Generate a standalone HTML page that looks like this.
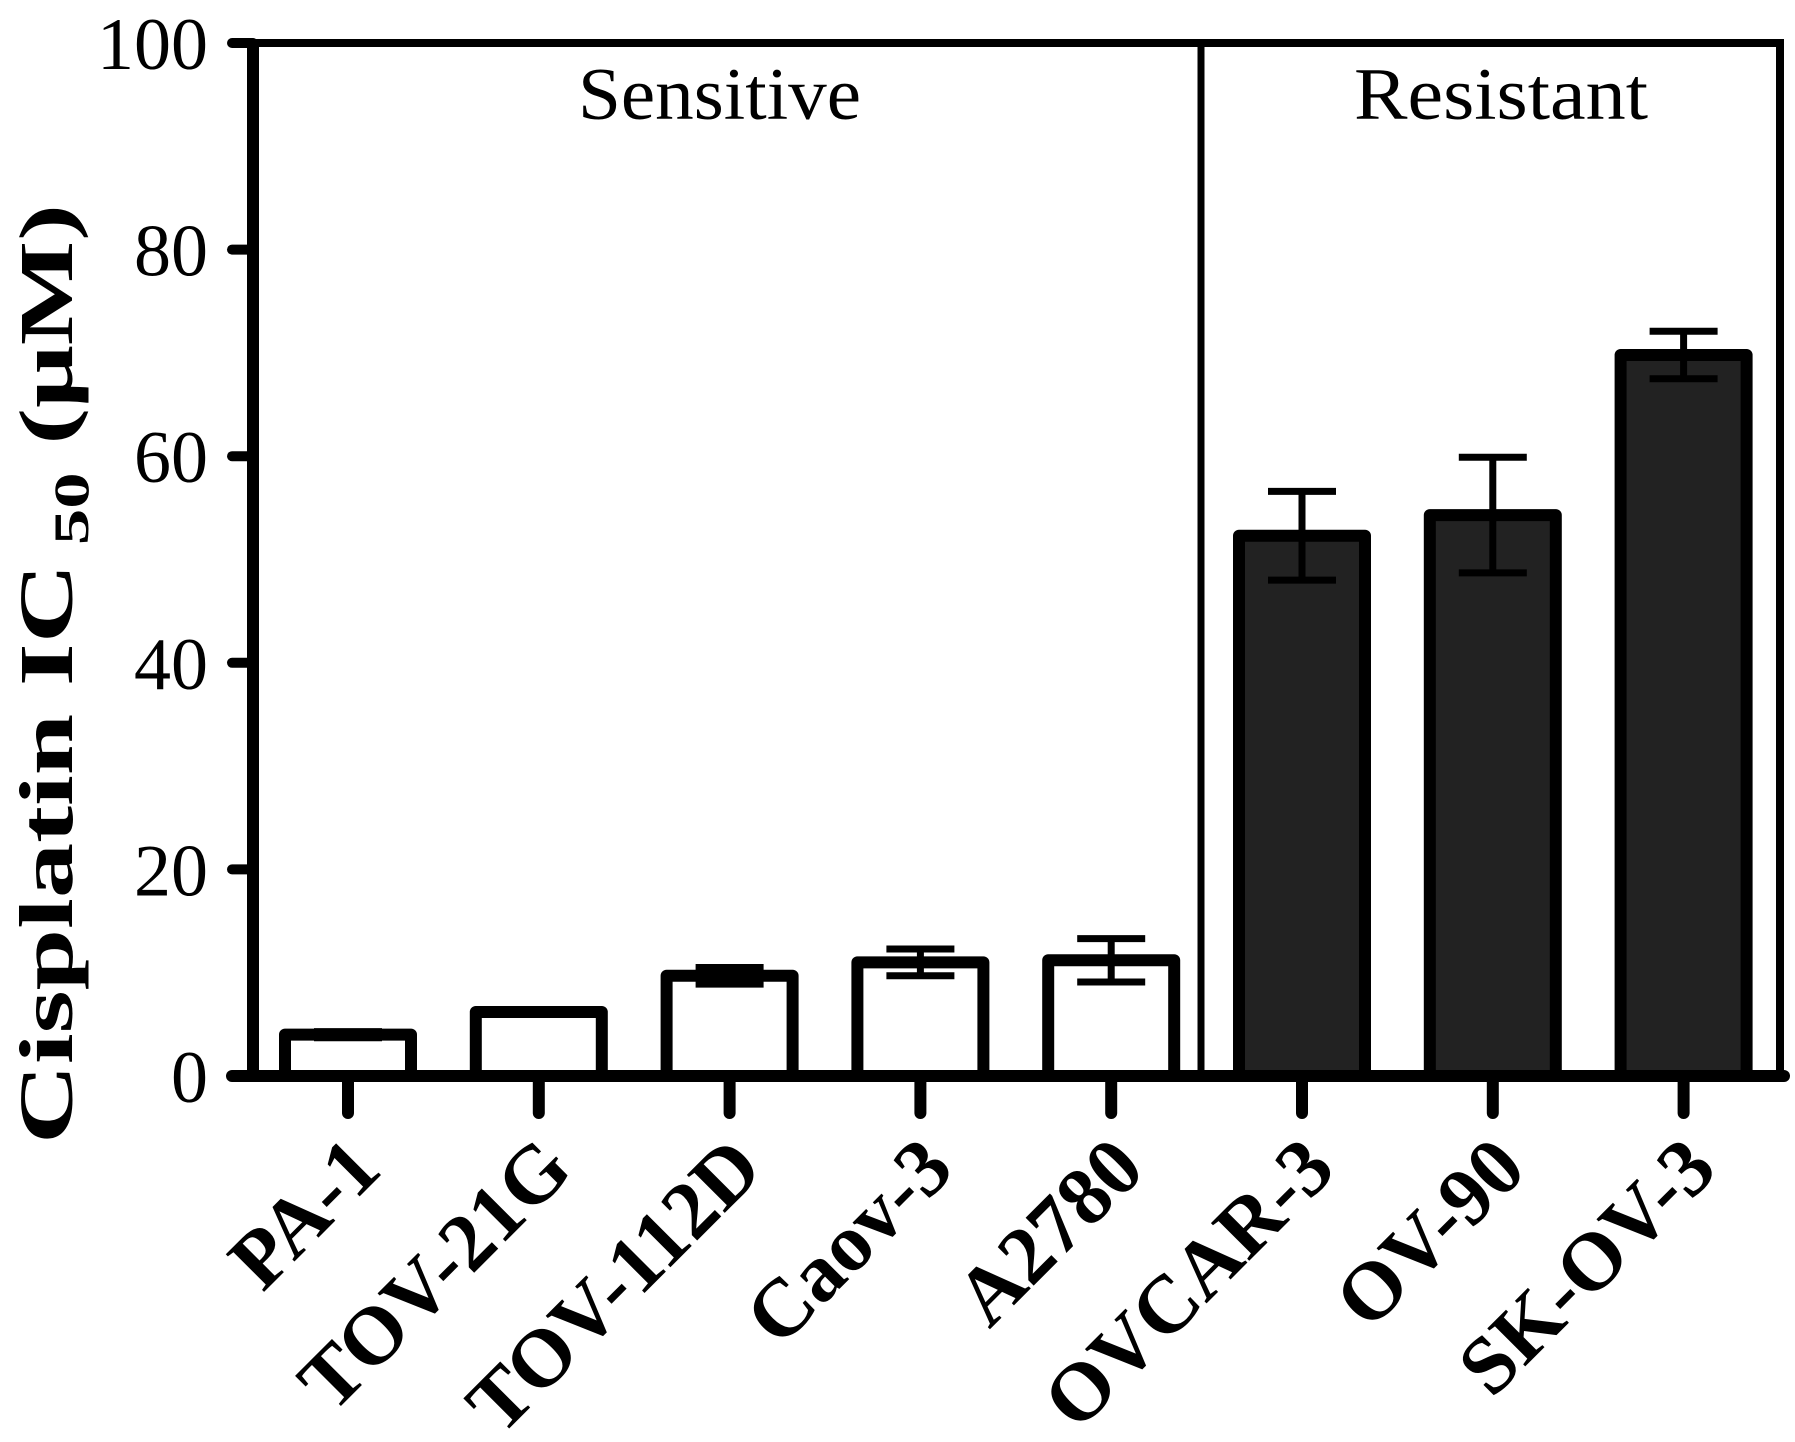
<!DOCTYPE html>
<html><head><meta charset="utf-8"><style>html,body{margin:0;padding:0;background:#fff;}svg{display:block}</style></head>
<body>
<svg id="chart" width="1795" height="1442" viewBox="0 0 1795 1442" xmlns="http://www.w3.org/2000/svg" font-family="'Liberation Serif', serif">
<g id="plot"></g>
</svg>
<script>
const categories = ["PA-1","TOV-21G","TOV-112D","Caov-3","A2780","OVCAR-3","OV-90","SK-OV-3"];
const values = [4.0, 6.2, 9.7, 11.0, 11.2, 52.3, 54.3, 69.8];
const errors = [0.3, 0, 0.8, 1.3, 2.1, 4.3, 5.6, 2.3];
const groups = ["s","s","s","s","s","r","r","r"];
const yTicks = [0, 20, 40, 60, 80, 100];

const NS = "http://www.w3.org/2000/svg";
const g = document.getElementById('plot');
const x0 = 253, x1 = 1780, yTop = 43, yBase = 1076;
const yMax = 100;
const y = v => yBase - (v / yMax) * (yBase - yTop);
const firstC = 348, step = 190.8;
const xc = i => firstC + i * step;
const barW = 126;
function el(tag, attrs, parent) {
  const e = document.createElementNS(NS, tag);
  for (const k in attrs) e.setAttribute(k, attrs[k]);
  (parent || g).appendChild(e);
  return e;
}
values.forEach((v, i) => {
  const r = el('rect', {x: xc(i) - barW/2, y: y(v), width: barW, height: yBase - y(v),
    fill: groups[i] === 'r' ? '#222' : '#fff', stroke: '#000', 'stroke-width': 12, 'stroke-linejoin': 'round'});
  
  
  if (errors[i] > 0) {
    const eg = el('g', {stroke: '#000', 'stroke-width': 7, fill: 'none'});
    
    
    const cw = 34;
    el('line', {x1: xc(i), x2: xc(i), y1: y(values[i] + errors[i]), y2: y(values[i] - errors[i])}, eg);
    el('line', {x1: xc(i) - cw, x2: xc(i) + cw, y1: y(values[i] + errors[i]), y2: y(values[i] + errors[i])}, eg);
    el('line', {x1: xc(i) - cw, x2: xc(i) + cw, y1: y(values[i] - errors[i]), y2: y(values[i] - errors[i])}, eg);
  }
  const t = el('line', {x1: xc(i), x2: xc(i), y1: yBase, y2: yBase + 37, stroke: '#000', 'stroke-width': 12, 'stroke-linecap': 'round'});
  
  
  const ax = xc(i) + 36, ay = yBase + 96;
  const lab = el('text', {x: ax, y: ay, 'text-anchor': 'end', 'font-size': 82, 'font-weight': 'bold',
    transform: `rotate(-45 ${ax} ${ay})`});
  lab.textContent = categories[i];
  
  
});
const fr = el('path', {d: `M${x0} ${yBase} V${yTop} H${x1} V${yBase}`, fill: 'none', stroke: '#000', 'stroke-width': 8});


const xa = el('line', {x1: 232, x2: x1 + 4, y1: yBase, y2: yBase, stroke: '#000', 'stroke-width': 12, 'stroke-linecap': 'round'});


const ya = el('line', {x1: x0, x2: x0, y1: yTop - 4, y2: yBase, stroke: '#000', 'stroke-width': 12});


const dv = el('line', {x1: 1201, x2: 1201, y1: yTop, y2: yBase, stroke: '#000', 'stroke-width': 7});


yTicks.forEach(v => {
  const tk = el('line', {x1: 232, x2: x0, y1: y(v), y2: y(v), stroke: '#000', 'stroke-width': 10, 'stroke-linecap': 'round'});
  
  
  const t = el('text', {x: 208, y: y(v) + 26, 'text-anchor': 'end', 'font-size': 74});
  t.textContent = v;
  
  
});
const s = el('text', {x: 578, y: 119, 'font-size': 74, textLength: 283, lengthAdjust: 'spacingAndGlyphs'});
s.textContent = 'Sensitive';


const r = el('text', {x: 1354, y: 119, 'font-size': 74, textLength: 294, lengthAdjust: 'spacingAndGlyphs'});
r.textContent = 'Resistant';


const yt = el('text', {x: -470, y: 0, 'font-size': 76, 'font-weight': 'bold', textLength: 940, lengthAdjust: 'spacingAndGlyphs',
  transform: 'translate(72 674) rotate(-90)'});
yt.innerHTML = 'Cisplatin IC<tspan font-size="50" dy="16"> 50</tspan><tspan dy="-16">  (μM)</tspan>';


</script>
</body></html>
